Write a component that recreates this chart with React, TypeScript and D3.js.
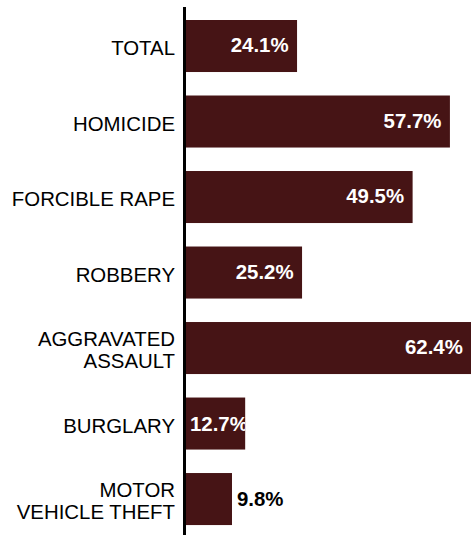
import React from "react";
import * as d3 from "d3";

const categories = ["TOTAL", "HOMICIDE", "FORCIBLE RAPE", "ROBBERY", "AGGRAVATED ASSAULT", "BURGLARY", "MOTOR VEHICLE THEFT"];
const labelLines = [["TOTAL"], ["HOMICIDE"], ["FORCIBLE RAPE"], ["ROBBERY"], ["AGGRAVATED", "ASSAULT"], ["BURGLARY"], ["MOTOR", "VEHICLE THEFT"]];
const values = [24.1, 57.7, 49.5, 25.2, 62.4, 12.7, 9.8];

const W = 471;
const H = 535;
const BAR = "#461415";
const FONT = "Liberation Sans, Arial, Helvetica, sans-serif";

export default function App() {
  const axisX = 184.5;
  const x = d3.scaleLinear().domain([0, 62.4]).range([187.4, 471.3]);
  const y = d3
    .scaleBand<string>()
    .domain(categories)
    .range([8.26, 536.8])
    .paddingInner(0.311)
    .paddingOuter(0.1555);
  const bw = y.bandwidth();
  const barStart = axisX - 1.5;
  const labelSize = 20.4;
  const valueSize = 20.4;

  return (
    <svg
      width={W}
      height={H}
      style={{ position: "absolute", left: 0, top: 0, background: "#fff" }}
      fontFamily={FONT}
    >
      <defs>
        {categories.map((c, i) => (
          <clipPath id={`clip${i}`} key={c}>
            <rect x={barStart} y={y(c)!} width={x(values[i]) - barStart} height={bw} />
          </clipPath>
        ))}
      </defs>
      {categories.map((c, i) => {
        const v = values[i];
        const y0 = y(c)!;
        const cy = y0 + bw / 2;
        const xe = x(v);
        const lines = labelLines[i];
        const lh = 22.5;
        let valueLabel;
        if (v >= 20) {
          valueLabel = (
            <text x={xe - 8.5} y={cy - 1} dy="0.35em" textAnchor="end" fill="#fff" fontWeight="bold" fontSize={valueSize}>
              {v.toFixed(1)}%
            </text>
          );
        } else if (v >= 10) {
          valueLabel = (
            <text x={barStart + 7} y={cy} dy="0.35em" textAnchor="start" fill="#fff" fontWeight="bold" fontSize={valueSize} clipPath={`url(#clip${i})`}>
              {v.toFixed(1)}%
            </text>
          );
        } else {
          valueLabel = (
            <text x={xe + 5} y={cy} dy="0.35em" textAnchor="start" fill="#000" fontWeight="bold" fontSize={valueSize}>
              {v.toFixed(1)}%
            </text>
          );
        }
        return (
          <g key={c}>
            <rect x={barStart} y={y0} width={xe - barStart} height={bw} fill={BAR} />
            {valueLabel}
            {lines.map((ln, j) => (
              <text
                key={ln}
                x={175}
                y={cy + (j - (lines.length - 1) / 2) * lh + 2}
                dy="0.35em"
                textAnchor="end"
                fill="#000"
                fontSize={labelSize}
              >
                {ln}
              </text>
            ))}
          </g>
        );
      })}
      <line x1={axisX} x2={axisX} y1={7} y2={H} stroke="#000" strokeWidth={3} />
    </svg>
  );
}
